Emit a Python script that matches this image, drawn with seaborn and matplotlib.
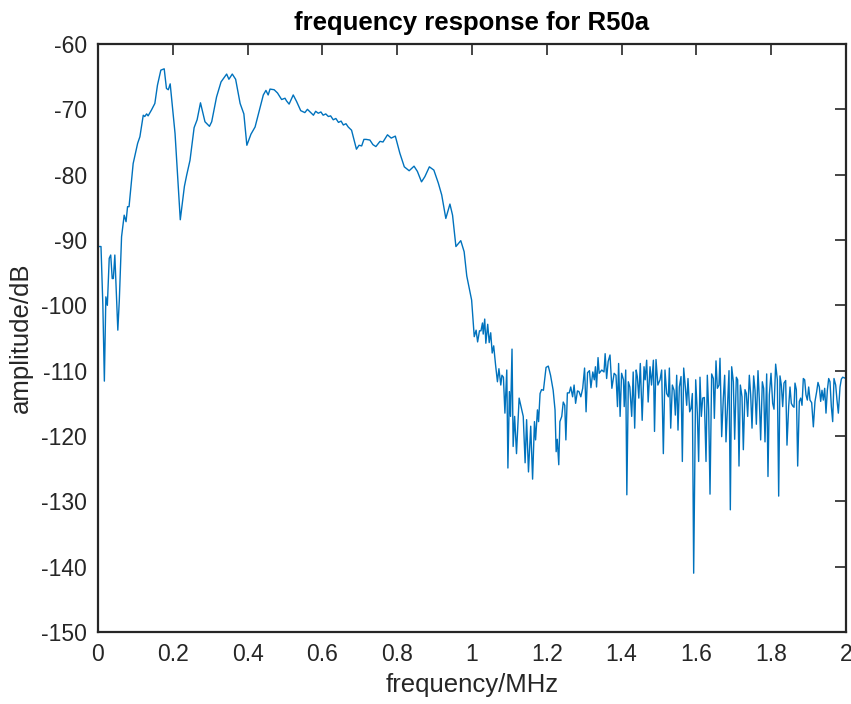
import matplotlib
matplotlib.use("Agg")
import matplotlib.pyplot as plt
import seaborn as sns
import pandas as pd

# ---- data (frequency in MHz, amplitude in dB) ----
freq_low = [0.000, 0.008, 0.013, 0.017, 0.021, 0.025, 0.030, 0.034, 0.038, 0.041,
            0.045, 0.053, 0.057, 0.063, 0.070, 0.075, 0.079, 0.083, 0.094, 0.106,
            0.112, 0.121, 0.125, 0.130, 0.134, 0.143, 0.152, 0.159, 0.168, 0.177,
            0.183, 0.188, 0.193, 0.206, 0.220, 0.231, 0.237, 0.246, 0.257, 0.265,
            0.274, 0.286, 0.298, 0.304, 0.317, 0.329, 0.344, 0.350, 0.359, 0.368,
            0.380, 0.390, 0.398, 0.409, 0.420, 0.442, 0.449, 0.455, 0.460, 0.471,
            0.480, 0.491, 0.500, 0.504, 0.511, 0.522, 0.531, 0.542, 0.553, 0.560,
            0.567, 0.576, 0.582, 0.589, 0.596, 0.602, 0.609, 0.616, 0.622, 0.629,
            0.636, 0.643, 0.650, 0.656, 0.663, 0.669, 0.678, 0.691, 0.698, 0.705,
            0.711, 0.717, 0.727, 0.735, 0.743, 0.754, 0.762, 0.774, 0.784, 0.795,
            0.807, 0.819, 0.832, 0.845, 0.854, 0.865, 0.874, 0.886, 0.898, 0.910,
            0.919, 0.930, 0.941, 0.948, 0.957, 0.970, 0.979, 0.986, 0.999]
amp_low = [-91.0, -91.0, -100.0, -111.6, -98.7, -100.0, -92.8, -92.3, -95.9, -95.9,
           -92.3, -103.8, -99.2, -89.5, -86.2, -87.2, -84.9, -84.9, -78.3, -75.2,
           -74.2, -70.9, -71.1, -70.7, -71.0, -70.1, -69.1, -66.3, -64.0, -63.8,
           -66.8, -67.0, -66.1, -73.7, -86.9, -81.8, -80.1, -77.8, -72.8, -71.6,
           -69.0, -71.9, -72.6, -71.9, -68.1, -65.8, -64.6, -65.4, -64.6, -65.4,
           -69.1, -70.7, -75.5, -73.8, -72.7, -67.8, -67.1, -67.8, -66.9, -67.0,
           -67.5, -68.5, -68.3, -68.7, -69.2, -67.8, -68.8, -70.2, -70.5, -70.0,
           -70.4, -70.9, -70.3, -70.6, -70.4, -70.9, -70.7, -71.1, -71.0, -71.6,
           -71.4, -72.0, -71.8, -72.4, -72.2, -72.7, -73.2, -76.1, -75.5, -75.6,
           -74.6, -74.6, -74.7, -75.4, -75.7, -74.9, -75.0, -73.9, -74.4, -74.1,
           -76.7, -78.8, -79.4, -78.7, -79.5, -81.1, -80.3, -78.8, -79.3, -81.3,
           -83.1, -86.7, -84.5, -86.2, -91.0, -90.1, -91.8, -95.5, -99.2]

freq_mid = [1.006, 1.011, 1.015, 1.020, 1.024, 1.028, 1.030, 1.034, 1.037, 1.042,
            1.046, 1.050, 1.054, 1.058, 1.063, 1.068, 1.072, 1.077, 1.080, 1.084,
            1.088, 1.093, 1.096, 1.100, 1.103, 1.107, 1.110, 1.114, 1.119, 1.126,
            1.133, 1.137, 1.142, 1.146, 1.151, 1.157, 1.162, 1.167, 1.170, 1.175,
            1.178, 1.182, 1.186, 1.191, 1.198, 1.204, 1.210, 1.217, 1.222, 1.225,
            1.228, 1.232, 1.235, 1.240, 1.244, 1.248, 1.251, 1.255, 1.260, 1.264,
            1.269, 1.273, 1.277, 1.282, 1.286, 1.291, 1.296, 1.301, 1.305, 1.309,
            1.314, 1.318, 1.323, 1.327, 1.330, 1.333, 1.337]
amp_mid = [-104.8, -103.8, -105.6, -103.9, -103.9, -102.7, -104.4, -102.1, -105.8, -102.9,
           -105.7, -104.2, -107.3, -106.2, -109.1, -111.7, -109.7, -112.2, -110.7, -111.0,
           -116.5, -109.9, -124.9, -113.2, -117.0, -106.7, -121.6, -117.0, -122.7, -114.2,
           -116.0, -117.0, -124.1, -117.5, -125.5, -118.5, -126.6, -117.8, -120.6, -116.0,
           -117.8, -113.5, -112.9, -113.0, -109.5, -109.3, -110.7, -113.0, -116.0, -122.4,
           -120.5, -124.4, -117.8, -117.0, -114.8, -115.3, -120.6, -113.4, -113.4, -112.5,
           -114.0, -112.2, -115.0, -113.1, -113.2, -114.0, -112.7, -109.6, -116.3, -110.3,
           -110.0, -112.6, -110.2, -111.4, -109.4, -112.5, -108.0]

freq_high = [1.340, 1.347, 1.353, 1.356, 1.360, 1.364, 1.369, 1.374, 1.380, 1.385,
             1.389, 1.392, 1.396, 1.400, 1.405, 1.407, 1.411, 1.414, 1.418, 1.422,
             1.427, 1.431, 1.435, 1.439, 1.442, 1.446, 1.450, 1.455, 1.460, 1.463,
             1.467, 1.471, 1.476, 1.480, 1.485, 1.488, 1.492, 1.497, 1.5027, 1.5071,
             1.5116, 1.5160, 1.5205, 1.5250, 1.5277, 1.5313, 1.5357, 1.5402, 1.5437, 1.5473,
             1.5508, 1.5544, 1.5589, 1.5624, 1.5660, 1.5704, 1.5740, 1.5775, 1.5820, 1.5856,
             1.5892, 1.5927, 1.5981, 1.6025, 1.6060, 1.6096, 1.6132, 1.6168, 1.6212, 1.6257,
             1.6292, 1.6328, 1.6364, 1.6408, 1.6453, 1.6480, 1.6524, 1.6560, 1.6604, 1.6631,
             1.6676, 1.6720, 1.6756, 1.6791, 1.6836, 1.6872, 1.6907, 1.6943, 1.6988, 1.7023,
             1.7068, 1.7103, 1.7139, 1.7175, 1.7219, 1.7255, 1.7299, 1.7335, 1.7371, 1.7415,
             1.7451, 1.7487, 1.7531, 1.7567, 1.7603, 1.7647, 1.7683, 1.7718, 1.7763, 1.7798,
             1.7834, 1.7879, 1.7914, 1.7950, 1.7995, 1.8039, 1.8075, 1.8119, 1.8164, 1.8200,
             1.8235, 1.8271, 1.8307, 1.8342, 1.8387, 1.8422, 1.8467, 1.8503, 1.8538, 1.8574,
             1.8610, 1.8636, 1.8672, 1.8708, 1.8752, 1.8788, 1.8824, 1.8859, 1.8895, 1.8930,
             1.8966, 1.9002, 1.9037, 1.9082, 1.9127, 1.9171, 1.9216, 1.9251, 1.9287, 1.9323,
             1.9358, 1.9394, 1.9430, 1.9465, 1.9501, 1.9537, 1.9572, 1.9608, 1.9644, 1.9679,
             1.9724, 1.9759, 1.9795, 1.9840, 1.9875, 1.9911, 2.0000]
amp_high = [-110.4, -109.9, -110.2, -107.4, -111.2, -108.6, -107.6, -112.7, -110.4, -110.7,
            -115.5, -108.9, -117.0, -110.4, -111.4, -115.5, -109.9, -129.0, -111.7, -112.5,
            -117.0, -110.2, -118.8, -109.9, -110.9, -114.2, -108.9, -117.6, -109.4, -111.4,
            -108.4, -114.8, -109.4, -112.2, -108.4, -119.3, -108.3, -112.2, -111.4, -109.9,
            -122.7, -109.9, -113.5, -114.0, -109.6, -118.8, -112.2, -113.0, -116.8, -110.7,
            -119.1, -112.5, -110.9, -123.9, -109.6, -112.5, -115.3, -111.2, -116.3, -115.8,
            -113.5, -141.0, -111.4, -116.5, -123.9, -111.0, -117.0, -114.2, -114.1, -123.9,
            -110.7, -116.0, -128.9, -110.5, -111.2, -117.3, -108.5, -112.7, -112.2, -108.1,
            -120.1, -114.2, -110.7, -120.9, -114.7, -110.0, -131.3, -109.4, -111.7, -120.5,
            -111.0, -111.4, -124.6, -112.2, -114.0, -122.1, -112.9, -113.5, -117.0, -110.7,
            -113.7, -118.8, -110.8, -113.0, -118.2, -110.0, -114.5, -120.6, -111.7, -112.7,
            -120.9, -110.5, -126.2, -113.7, -110.4, -115.0, -115.9, -109.0, -111.4, -129.2,
            -110.8, -112.2, -115.5, -111.9, -111.5, -121.4, -115.5, -112.5, -115.0, -115.4,
            -115.6, -111.9, -112.9, -124.6, -114.7, -114.2, -115.3, -111.2, -111.4, -113.7,
            -114.5, -112.5, -114.5, -114.9, -118.6, -114.7, -113.2, -111.8, -112.5, -114.7,
            -113.0, -114.5, -112.7, -116.5, -113.0, -111.2, -111.7, -115.5, -117.8, -111.2,
            -112.2, -114.5, -116.5, -112.5, -111.3, -111.0, -111.2]

x_ticks = [0, 0.2, 0.4, 0.6, 0.8, 1.0, 1.2, 1.4, 1.6, 1.8, 2.0]
x_tick_labels = ["0", "0.2", "0.4", "0.6", "0.8", "1", "1.2", "1.4", "1.6", "1.8", "2"]
y_ticks = [-150, -140, -130, -120, -110, -100, -90, -80, -70, -60]
title_text = "frequency response for R50a"
x_label = "frequency/MHz"
y_label = "amplitude/dB"

df = pd.DataFrame({"freq": freq_low + freq_mid + freq_high,
                   "amp": amp_low + amp_mid + amp_high})

sns.set_style("white")
plt.rcParams["font.family"] = ["Liberation Sans", "DejaVu Sans"]

fig = plt.figure(figsize=(8.51, 7.04), dpi=100)
ax = fig.add_axes([98 / 851, 1 - 632 / 704, 748 / 851, 588 / 704])

sns.lineplot(data=df, x="freq", y="amp", ax=ax, color="#0072BD", linewidth=1.0,
             sort=False, estimator=None)

ax.set_xlim(0, 2)
ax.set_ylim(-150, -60)
ax.set_xticks(x_ticks)
ax.set_xticklabels(x_tick_labels)
ax.set_yticks(y_ticks)
ax.set_yticklabels([str(v) for v in y_ticks])

dark = "#262626"
for s in ax.spines.values():
    s.set_visible(True)
    s.set_color(dark)
    s.set_linewidth(1.6)
ax.tick_params(direction="in", length=8, width=1.2, colors=dark,
               labelsize=16.5, top=True, right=True, pad=8)
ax.tick_params(axis="both", labelcolor=dark)

ax.set_xlabel(x_label, fontsize=18.5, color=dark, labelpad=5)
ax.set_ylabel(y_label, fontsize=18.5, color=dark, labelpad=6)
ax.set_title(title_text, fontsize=18.5, fontweight="bold", color="black", pad=10)

fig.savefig("out.png", dpi=100, facecolor="white")
